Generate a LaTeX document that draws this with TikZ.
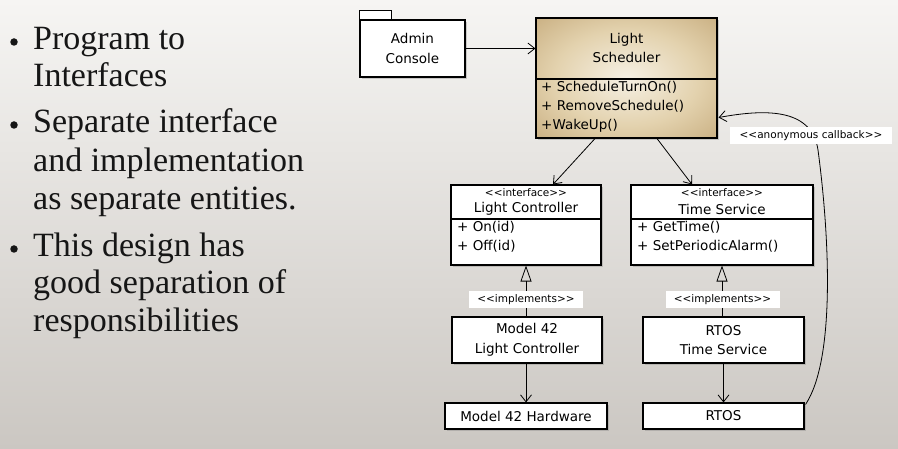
\documentclass[tikz,border=0pt]{standalone}
\usepackage{fontspec}
\setmainfont{Liberation Serif}
\newfontfamily\umlfont{DejaVu Sans}
\usetikzlibrary{arrows.meta,positioning,shadows,calc}
\definecolor{bgtop}{HTML}{F6F5F3}
\definecolor{bgbot}{HTML}{CBC7C2}
\definecolor{schedin}{HTML}{F6F0E4}
\definecolor{schedmid}{HTML}{E3D2AE}
\definecolor{schedrim}{HTML}{C0A372}
\definecolor{schedout}{HTML}{AD8E5C}
\definecolor{ink}{HTML}{161616}
\newcommand{\stereo}[1]{<{}<#1>{}>}
\pgfdeclareradialshading{schedglow}{\pgfpoint{0bp}{0bp}}{%
  color(0bp)=(schedin); color(20bp)=(schedmid); color(42bp)=(schedrim); color(70bp)=(schedout)}

\tikzset{
  umlbox/.style={draw=black, line width=1.1pt, fill=white, inner sep=0pt, align=center,
    drop shadow={shadow xshift=2pt, shadow yshift=-2pt, opacity=0.35},
    font=\umlfont\fontsize{13.5}{19.5}\selectfont},
  schedbox/.style={umlbox, shading=schedglow},
  umltext/.style={inner sep=0pt, align=left, font=\umlfont\fontsize{13.5}{19.5}\selectfont},
  stereotext/.style={inner sep=0pt, font=\umlfont\fontsize{10.5}{12}\selectfont},
  stereolabel/.style={stereotext, fill=white, minimum width=114pt, minimum height=17pt},
  divider/.style={line width=1.1pt},
  usesarrow/.style={line width=0.8pt, -{Straight Barb[length=7pt,width=11pt]}},
  realizes/.style={line width=0.8pt, -{Triangle[open,length=16pt,width=11pt]}},
  bullettext/.style={inner sep=0pt, anchor=base west, text=ink, font=\fontsize{34}{38}\selectfont},
  bulletdot/.style={circle, fill=ink, inner sep=0pt, minimum size=7.5pt},
}

\begin{document}
\begin{tikzpicture}[x=1pt, y=-1pt]
  \useasboundingbox (0,0) rectangle (898,449);
  \shade[top color=bgtop, bottom color=bgbot] (0,0) rectangle (898,449);

  % bullet points
  \node[bulletdot] (b1) at (14,42) {};
  \node[bullettext] (t1) at (33,50) {Program to};
  \node[bullettext] (t2) at (33,87) {Interfaces};
  \node[bulletdot] (b2) at (14,125) {};
  \node[bullettext] (t3) at (33,133) {Separate interface};
  \node[bullettext] (t4) at (33,172) {and implementation};
  \node[bullettext] (t5) at (33,210) {as separate entities.};
  \node[bulletdot] (b3) at (14,249) {};
  \node[bullettext] (t6) at (33,257) {This design has};
  \node[bullettext] (t7) at (33,294) {good separation of};
  \node[bullettext] (t8) at (33,332) {responsibilities};

  % classes
  \node[umlbox, minimum width=105pt, minimum height=57pt] (admin) at (412.5,48.5) {Admin\\Console};
  \draw[line width=1.1pt, fill=white] (admin.north west) rectangle ++(32,-9);

  \node[schedbox, minimum width=181pt, minimum height=120pt] (sched) at (626.5,78) {};
  \draw[divider] (sched.west |- 0,79) -- (sched.east |- 0,79);
  \node[umltext, align=center] (schedname) at (626.5,48) {Light\\Scheduler};
  \node[umltext, anchor=west, font=\umlfont\fontsize{13.5}{19}\selectfont] (schedops) at (541,107)
    {+ ScheduleTurnOn()\\+ RemoveSchedule()\\+WakeUp()};

  \node[umlbox, minimum width=150pt, minimum height=80pt] (lc) at (526,225) {};
  \draw[divider] (lc.west |- 0,219) -- (lc.east |- 0,219);
  \node[stereotext] (lcstereo) at (526,193) {\stereo{interface}};
  \node[umltext] (lcname) at (526,209) {Light Controller};
  \node[umltext, anchor=west] (lcops) at (457,237) {+ On(id)\\+ Off(id)};

  \node[umlbox, minimum width=182pt, minimum height=80pt] (ts) at (722,225) {};
  \draw[divider] (ts.west |- 0,219) -- (ts.east |- 0,219);
  \node[stereotext] (tsstereo) at (722,193) {\stereo{interface}};
  \node[umltext] (tsname) at (722,209) {Time Service};
  \node[umltext, anchor=west] (tsops) at (637,237) {+ GetTime()\\+ SetPeriodicAlarm()};

  \node[umlbox, minimum width=150pt, minimum height=46pt] (m42) at (527,340) {Model 42\\Light Controller};
  \node[umlbox, minimum width=161pt, minimum height=46pt] (rts) at (723.5,340) {RTOS\\Time Service};
  \node[umlbox, minimum width=162pt, minimum height=26pt] (hw) at (526,416) {Model 42 Hardware};
  \node[umlbox, minimum width=161pt, minimum height=26pt] (rtos) at (723.5,416) {RTOS};

  % connectors
  \draw[usesarrow] (admin.east) -- (admin.east -| sched.west);
  \draw[usesarrow] ($(sched.south)+(-31.5,0)$) -- ($(lc.north)+(27,0)$);
  \draw[usesarrow] ($(sched.south)+(30.5,0)$) -- ($(ts.north)+(-30,0)$);
  \draw[realizes] (m42.north -| lc.south) -- (lc.south);
  \draw[realizes] (rts.north -| ts.south) -- (ts.south);
  \draw[usesarrow] (m42.south -| hw.north) -- (hw.north);
  \draw[usesarrow] (rts.south) -- (rtos.north);
  \draw[usesarrow] ($(rtos.north east)+(1,2)$) .. controls (835,360) and (830,240) .. (818,150)
    .. controls (812,110) and (770,108) .. ($(sched.south east)+(1,-21)$);

  \node[stereolabel] (implL) at (526,300) {\stereo{implements}};
  \node[stereolabel] (implR) at (722.5,300) {\stereo{implements}};
  \node[stereolabel, minimum width=162pt] (callback) at (811,135.5) {\stereo{anonymous callback}};
\end{tikzpicture}
\end{document}
